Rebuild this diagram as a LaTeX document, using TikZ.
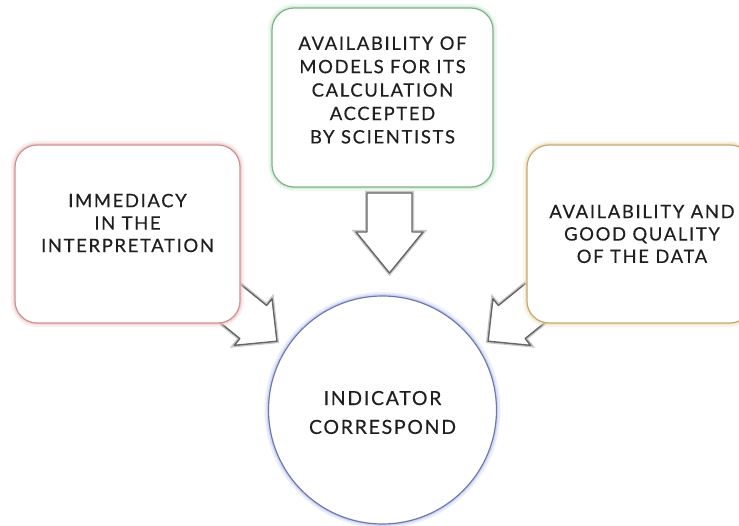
\documentclass[tikz,border=0pt]{standalone}
\usepackage{fontspec}
\setmainfont{Lato}[LetterSpace=9, FakeBold=0.35]
\usetikzlibrary{positioning}

\definecolor{redline}{RGB}{205,145,145}
\definecolor{redglow}{RGB}{240,200,200}
\definecolor{greenline}{RGB}{125,180,135}
\definecolor{greenglow}{RGB}{200,232,205}
\definecolor{tanline}{RGB}{195,170,115}
\definecolor{tanglow}{RGB}{238,222,185}
\definecolor{blueline}{RGB}{110,120,175}
\definecolor{blueglow}{RGB}{190,200,242}

\tikzset{
    pics/fatarrow/.style args={#1/#2/#3/#4}{code={
        % shaft half width / head half width / shaft length / head length
        \draw[fat] (0,-#1) -- (#3,-#1) -- (#3,-#2) -- (#3+#4,0)
                   -- (#3,#2) -- (#3,#1) -- (0,#1) -- cycle;
    }}
}

\begin{document}
\begin{tikzpicture}[x=1bp, y=-1bp,
    box/.style={rectangle, rounded corners=22bp, minimum width=225bp,
                minimum height=178bp, fill=white, inner sep=0pt, line width=1.2bp},
    glow/.style={preaction={draw=#1, line width=8bp, opacity=.3},
                 preaction={draw=#1, line width=4bp, opacity=.6}},
    txt/.style={align=center, text=black!88, font=\fontsize{18.5}{22.5}\selectfont},
    fat/.style={draw=black!60, line width=1.4bp, fill=white, line join=round,
                preaction={draw=black!22, line width=4bp}}]
    \useasboundingbox (0,0) rectangle (739,526);
    \clip (0,0) rectangle (739,526);

    % block arrows, drawn first so the boxes cover their tails
    \pic[rotate=-90] (downarr) at (389.5,193) {fatarrow={22.5/33.5/39/41}};
    \pic[rotate=-39] (leftarr) at (226,300) {fatarrow={21.3/30/35/30.5}};
    \pic[rotate=-141] (rightarr) at (539,300) {fatarrow={21.3/30/35/30.5}};

    % the three boxes and the circle
    \node[box, draw=redline, glow=redglow] (immed) at (127.5,234) {};
    \node[box, draw=greenline, glow=greenglow, minimum width=221bp,
          minimum height=179bp] (models) at (382.5,97.5) {};
    \node[box, draw=tanline, glow=tanglow] (data) at (639.5,234) {};
    \node[circle, draw=blueline, glow=blueglow, fill=white, line width=1.2bp,
          minimum size=228bp, inner sep=0pt] (indic) at (382.5,410) {};

    % texts
    \node[txt] (immedtxt) at ([yshift=11bp]immed.center)
        {IMMEDIACY\\IN THE\\INTERPRETATION};
    \node[txt, font=\fontsize{18.5}{23.5}\selectfont] (modelstxt) at ([yshift=7.5bp]models.center)
        {AVAILABILITY OF\\MODELS FOR ITS\\CALCULATION\\ACCEPTED\\BY SCIENTISTS};
    \node[txt] (datatxt) at ([xshift=2.5bp]data.center)
        {AVAILABILITY AND\\GOOD QUALITY\\OF THE DATA};
    \node[txt, font=\fontsize{19.5}{29}\selectfont] (indictxt) at ([yshift=-2.5bp]indic.center)
        {INDICATOR\\CORRESPOND};
\end{tikzpicture}
\end{document}
